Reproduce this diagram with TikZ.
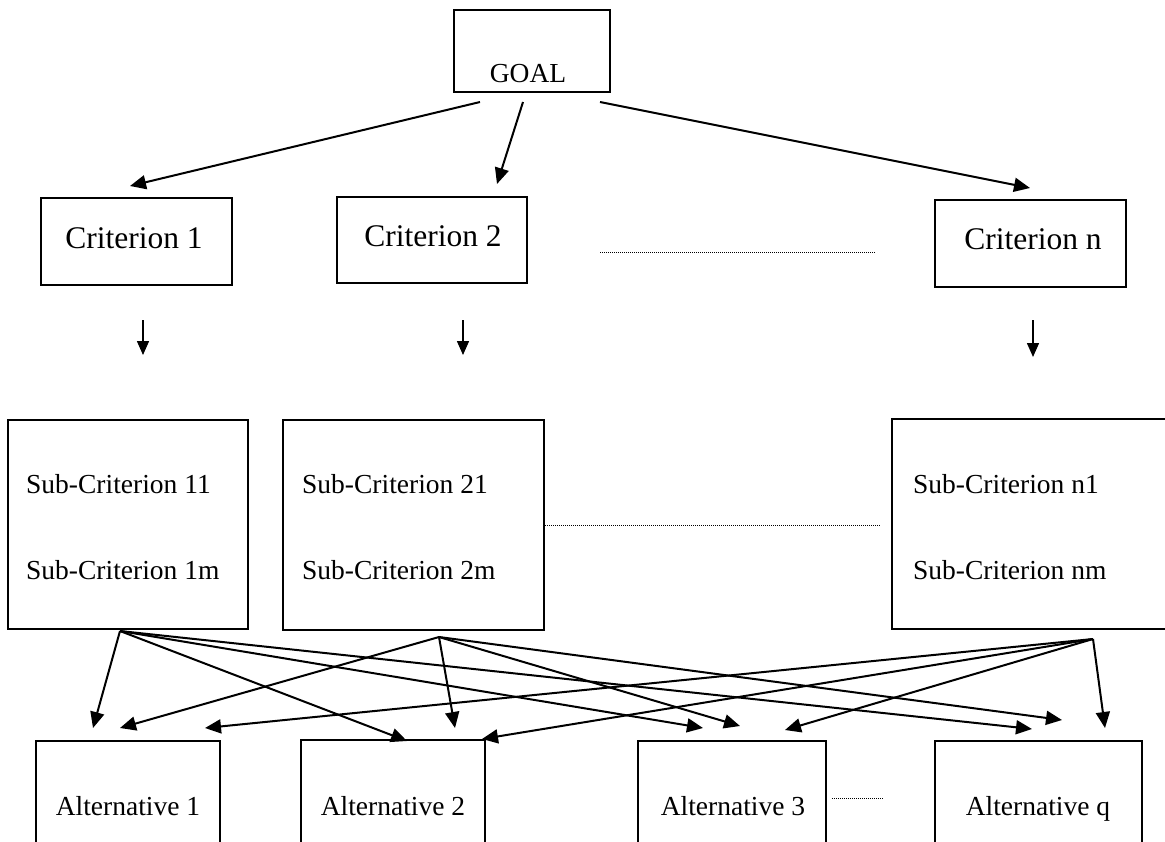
\documentclass[tikz,border=0pt]{standalone}
\usepackage{fontspec}
\setmainfont{Liberation Serif}
\usetikzlibrary{arrows.meta}
\begin{document}
\begin{tikzpicture}[x=1pt,y=-1pt,
  box/.style={draw, line width=1.4pt, inner sep=0pt, outer sep=0pt},
  lbl/.style={inner sep=0pt, font=\fontsize{27.5}{30}\selectfont},
  biglbl/.style={inner sep=0pt, font=\fontsize{31.5}{34}\selectfont},
  arr/.style={line width=2pt, -{Triangle[length=16pt,width=14pt]}},
  varr/.style={line width=1.5pt, -{Triangle[length=14pt,width=12pt]}},
  dotline/.style={line width=1pt, dash pattern=on 1pt off 1pt}]
\path[use as bounding box] (0,0) rectangle (1165,841);
\clip (0,0) rectangle (1165,841);
% boxes
\node[box, minimum width=156pt, minimum height=82pt]  (goal)  at (532,51) {};
\node[box, minimum width=191pt, minimum height=87pt]  (crit1) at (136.5,241.5) {};
\node[box, minimum width=190pt, minimum height=86pt]  (crit2) at (432,240) {};
\node[box, minimum width=191pt, minimum height=87pt]  (critn) at (1030.5,243.5) {};
\node[box, minimum width=240pt, minimum height=209pt] (sub1)  at (128,524.5) {};
\node[box, minimum width=261pt, minimum height=210pt] (sub2)  at (413.5,525) {};
\node[box, minimum width=288pt, minimum height=210pt] (subn)  at (1036,524) {};
\node[box, minimum width=184pt, minimum height=119pt] (alt1)  at (128,800.5) {};
\node[box, minimum width=184pt, minimum height=120pt] (alt2)  at (393,800) {};
\node[box, minimum width=188pt, minimum height=119pt] (alt3)  at (732,800.5) {};
\node[box, minimum width=207pt, minimum height=119pt] (altq)  at (1038.5,800.5) {};
% texts
\node[lbl, anchor=base] (tgoal) at (528,82) {GOAL};
\node[biglbl, anchor=base] (tc1) at (134,248) {Criterion 1};
\node[biglbl, anchor=base] (tc2) at (433,246) {Criterion 2};
\node[biglbl, anchor=base] (tcn) at (1033,249) {Criterion n};
\node[lbl, anchor=base west] (ts11) at (26,493) {Sub-Criterion 11};
\node[lbl, anchor=base west] (ts1m) at (26,579) {Sub-Criterion 1m};
\node[lbl, anchor=base west] (ts21) at (302,493) {Sub-Criterion 21};
\node[lbl, anchor=base west] (ts2m) at (302,579) {Sub-Criterion 2m};
\node[lbl, anchor=base west] (tsn1) at (913,493) {Sub-Criterion n1};
\node[lbl, anchor=base west] (tsnm) at (913,579) {Sub-Criterion nm};
\node[lbl, anchor=base] (ta1) at (128,815) {Alternative 1};
\node[lbl, anchor=base] (ta2) at (393,815) {Alternative 2};
\node[lbl, anchor=base] (ta3) at (733,815) {Alternative 3};
\node[lbl, anchor=base] (taq) at (1038,815) {Alternative q};
% dotted separators
\coordinate (d1a) at (600,252); \coordinate (d1b) at (876,252);
\coordinate (d2a) at (545,525); \coordinate (d2b) at (880,525);
\coordinate (d3a) at (832,798); \coordinate (d3b) at (884,798);
\draw[dotline] (d1a) -- (d1b);
\draw[dotline] (d2a) -- (d2b);
\draw[dotline] (d3a) -- (d3b);
% goal arrows
\coordinate (g1) at (480,102); \coordinate (g2) at (523,102); \coordinate (g3) at (600,102);
\coordinate (c1t) at (130,186); \coordinate (c2t) at (497,184); \coordinate (cnt) at (1030,188);
\draw[arr] (g1) -- (c1t);
\draw[arr] (g2) -- (c2t);
\draw[arr] (g3) -- (cnt);
% criterion to sub arrows
\coordinate (v1a) at (143,320); \coordinate (v1b) at (143,355);
\coordinate (v2a) at (463,320); \coordinate (v2b) at (463,355);
\coordinate (vna) at (1033,320); \coordinate (vnb) at (1033,357);
\draw[varr] (v1a) -- (v1b);
\draw[varr] (v2a) -- (v2b);
\draw[varr] (vna) -- (vnb);
% sub to alternatives
\coordinate (s1) at (120,631); \coordinate (s2) at (439,637); \coordinate (sn) at (1093,639);
\coordinate (a1x) at (93,728);  \coordinate (a1y) at (120,728); \coordinate (a1z) at (205,728);
\coordinate (a2x) at (407,741); \coordinate (a2y) at (455,728); \coordinate (a2z) at (482,739);
\coordinate (a3x) at (703,728); \coordinate (a3y) at (740,726); \coordinate (a3z) at (785,730);
\coordinate (aqx) at (1032,729); \coordinate (aqy) at (1062,720); \coordinate (aqz) at (1105,728);
\draw[arr] (s1) -- (a1x);
\draw[arr] (s1) -- (a2x);
\draw[arr] (s1) -- (a3x);
\draw[arr] (s1) -- (aqx);
\draw[arr] (s2) -- (a1y);
\draw[arr] (s2) -- (a2y);
\draw[arr] (s2) -- (a3y);
\draw[arr] (s2) -- (aqy);
\draw[arr] (sn) -- (a1z);
\draw[arr] (sn) -- (a2z);
\draw[arr] (sn) -- (a3z);
\draw[arr] (sn) -- (aqz);
\end{tikzpicture}
\end{document}
